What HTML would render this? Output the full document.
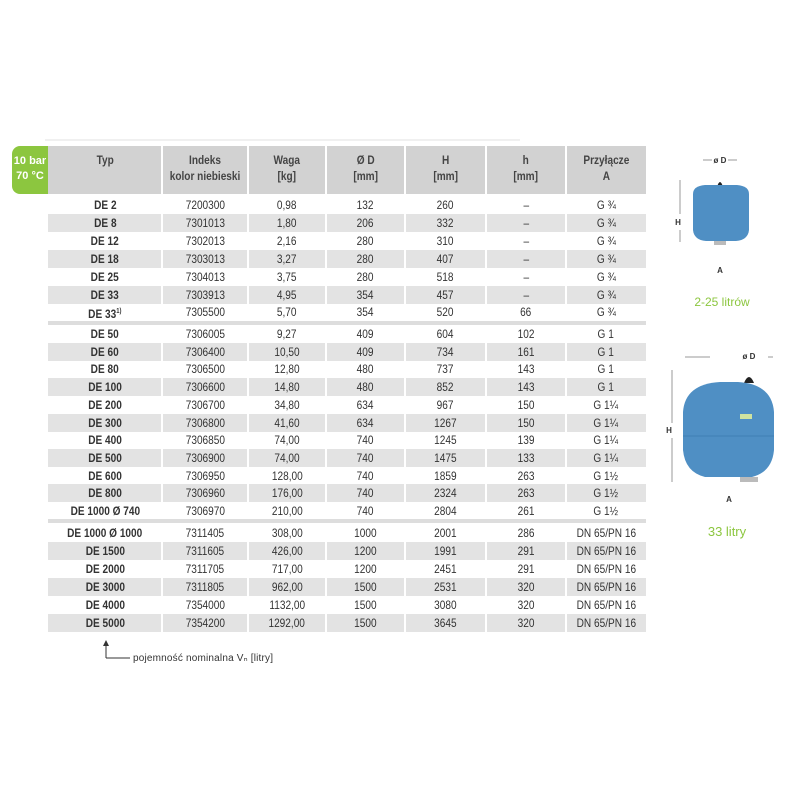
<!DOCTYPE html>
<html><head><meta charset="utf-8"><style>
body{margin:0;width:800px;height:800px;background:#fff;position:relative;overflow:hidden;font-family:"Liberation Sans",sans-serif;color:#333}
.a{position:absolute}
.row{position:absolute;left:48px;width:598px;height:18px;font-size:12px;line-height:18px}
.g{background:#e3e3e3}
.c{position:absolute;top:0;height:100%;text-align:center;white-space:nowrap}
.c span{display:inline-block;transform:scaleX(.84)}
.sep{position:absolute;top:0;width:2px;height:100%;background:#fff}
.hd{position:absolute;left:48px;top:146px;width:598px;height:48px;background:#d2d2d2;font-size:12px;font-weight:bold;line-height:16px;color:#444}
.hd .c{padding-top:6px}
</style></head><body>
<div class="a" style="left:45px;top:139px;width:475px;height:2px;background:#f0f0f0"></div>
<div class="a" style="left:12px;top:146px;width:36px;height:48px;background:#8cc63f;border-radius:8px 0 0 8px;color:#fff;font-weight:bold;font-size:11px;line-height:15px;text-align:center;padding-top:8px;box-sizing:border-box">10 bar<br>70 °C</div>
<div class="hd">
<div class="c" style="left:0;width:114px"><span>Typ</span></div>
<div class="c" style="left:114px;width:86px"><span>Indeks<br>kolor niebieski</span></div>
<div class="c" style="left:200px;width:78px"><span>Waga<br>[kg]</span></div>
<div class="c" style="left:278px;width:79px"><span>Ø D<br>[mm]</span></div>
<div class="c" style="left:357px;width:81px"><span>H<br>[mm]</span></div>
<div class="c" style="left:438px;width:80px"><span>h<br>[mm]</span></div>
<div class="c" style="left:518px;width:80px"><span>Przyłącze<br>A</span></div>
<div class="sep" style="left:113px"></div><div class="sep" style="left:199px"></div><div class="sep" style="left:277px"></div><div class="sep" style="left:356px"></div><div class="sep" style="left:437px"></div><div class="sep" style="left:517px"></div>
</div>
<div id="t"></div>
<div class="a" style="left:48px;top:321px;width:598px;height:4px;background:#ddd"></div>
<div class="a" style="left:48px;top:519px;width:598px;height:4px;background:#ddd"></div>
<svg class="a" style="left:100px;top:640px" width="200" height="30"><line x1="6" y1="4" x2="6" y2="18" stroke="#333" stroke-width="1"/><polygon points="3,6 6,0 9,6" fill="#333"/><line x1="6" y1="18" x2="30" y2="18" stroke="#333"/><text x="33" y="21" font-size="10" font-family="Liberation Sans,sans-serif" fill="#333" textLength="140">pojemność nominalna Vₙ [litry]</text></svg>
<svg class="a" style="left:660px;top:150px" width="140" height="400" font-family="Liberation Sans,sans-serif">
<line x1="43" y1="10" x2="52" y2="10" stroke="#999"/><text x="60" y="13" font-size="8" fill="#333" font-weight="bold" text-anchor="middle">ø D</text><line x1="68" y1="10" x2="77" y2="10" stroke="#999"/>
<line x1="20" y1="30" x2="20" y2="64" stroke="#999"/><line x1="20" y1="80" x2="20" y2="92" stroke="#999"/><text x="18" y="75" font-size="8" fill="#333" font-weight="bold" text-anchor="middle">H</text>
<path d="M57,37 Q60,27 63,37Z" fill="#222"/>
<path d="M33,44 Q33,36 45,35 L77,35 Q89,36 89,44 L89,80 Q88,90 76,91 L46,91 Q34,90 33,80Z" fill="#4f8fc4"/>
<rect x="54" y="91" width="12" height="4" fill="#bbb"/>
<text x="60" y="123" font-size="8" fill="#333" font-weight="bold" text-anchor="middle">A</text>
<text x="62" y="156" font-size="12" fill="#8cc63f" text-anchor="middle">2-25 litrów</text>
<line x1="25" y1="207" x2="50" y2="207" stroke="#999"/><text x="89" y="209" font-size="8" fill="#333" font-weight="bold" text-anchor="middle">ø D</text><line x1="108" y1="207" x2="113" y2="207" stroke="#999"/>
<line x1="12" y1="220" x2="12" y2="273" stroke="#999"/><line x1="12" y1="288" x2="12" y2="332" stroke="#999"/><text x="9" y="283" font-size="8" fill="#333" font-weight="bold" text-anchor="middle">H</text>
<path d="M84,233 Q89,221 94,233Z" fill="#222"/>
<path d="M23,262 Q25,234 60,232 L78,232 Q112,234 114,262 L114,300 Q112,322 92,327 L45,327 Q25,322 23,300Z" fill="#4f8fc4"/>
<line x1="23" y1="286" x2="114" y2="286" stroke="#3f7fb4" stroke-width="1"/>
<rect x="80" y="264" width="12" height="5" fill="#cfe3a0"/>
<rect x="80" y="327" width="18" height="5" fill="#bbb"/>
<text x="69" y="352" font-size="8" fill="#333" font-weight="bold" text-anchor="middle">A</text>
<text x="67" y="386" font-size="13" fill="#8cc63f" text-anchor="middle">33 litry</text>
</svg>
<script>
var d=[["DE 2","7200300","0,98","132","260","–","G ¾"],["DE 8","7301013","1,80","206","332","–","G ¾"],["DE 12","7302013","2,16","280","310","–","G ¾"],["DE 18","7303013","3,27","280","407","–","G ¾"],["DE 25","7304013","3,75","280","518","–","G ¾"],["DE 33","7303913","4,95","354","457","–","G ¾"],["DE 33<sup style='font-size:7px'>1)</sup>","7305500","5,70","354","520","66","G ¾"],
["DE 50","7306005","9,27","409","604","102","G 1"],["DE 60","7306400","10,50","409","734","161","G 1"],["DE 80","7306500","12,80","480","737","143","G 1"],["DE 100","7306600","14,80","480","852","143","G 1"],["DE 200","7306700","34,80","634","967","150","G 1¼"],["DE 300","7306800","41,60","634","1267","150","G 1¼"],["DE 400","7306850","74,00","740","1245","139","G 1¼"],["DE 500","7306900","74,00","740","1475","133","G 1¼"],["DE 600","7306950","128,00","740","1859","263","G 1½"],["DE 800","7306960","176,00","740","2324","263","G 1½"],["DE 1000 Ø 740","7306970","210,00","740","2804","261","G 1½"],
["DE 1000 Ø 1000","7311405","308,00","1000","2001","286","DN 65/PN 16"],["DE 1500","7311605","426,00","1200","1991","291","DN 65/PN 16"],["DE 2000","7311705","717,00","1200","2451","291","DN 65/PN 16"],["DE 3000","7311805","962,00","1500","2531","320","DN 65/PN 16"],["DE 4000","7354000","1132,00","1500","3080","320","DN 65/PN 16"],["DE 5000","7354200","1292,00","1500","3645","320","DN 65/PN 16"]];
var L=[0,114,200,278,357,438,518],W=[114,86,78,79,81,80,80],h="";
d.forEach(function(r,i){var top,g;
if(i<7){top=196+i*17.9;g=i%2==1}else if(i<18){top=325+(i-7)*17.7;g=(i-7)%2==1}else{top=524+(i-18)*17.9;g=(i-18)%2==1}
h+='<div class="row'+(g?' g':'')+'" style="top:'+top+'px">';
r.forEach(function(v,j){h+='<div class="c" style="left:'+L[j]+'px;width:'+W[j]+'px;'+(j==0?'font-weight:bold':'')+'"><span>'+v+'</span></div>'});
if(g)for(var j=1;j<7;j++)h+='<div class="sep" style="left:'+(L[j]-1)+'px"></div>';
h+='</div>'});
document.getElementById("t").innerHTML=h;
</script>
</body></html>
